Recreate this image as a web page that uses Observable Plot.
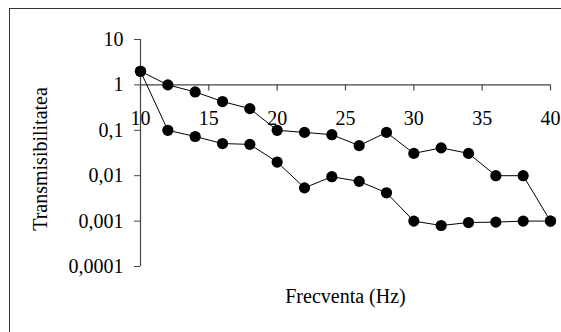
<!DOCTYPE html>
<html><head><meta charset="utf-8">
<script src="https://cdn.jsdelivr.net/npm/d3@7"></script>
<script src="https://cdn.jsdelivr.net/npm/@observablehq/plot@0.6"></script>
<style>
body{margin:0;background:#fff}
#wrap{position:relative;width:561px;height:332px;overflow:hidden;background:#fff}
#border{position:absolute;left:9px;top:8px;width:700px;height:500px;border:1.5px solid #333;box-sizing:border-box}
#wrap svg{position:absolute;left:0;top:0}
</style></head><body><div id="wrap"><div id="border"></div></div>
<script>
const freq = [10,12,14,16,18,20,22,24,26,28,30,32,34,36,38,40];
const seriesA = [2,1,0.7,0.43,0.3,0.1,0.09,0.08,0.046,0.09,0.031,0.041,0.031,0.01,0.01,0.001];
const seriesB = [2,0.1,0.073,0.051,0.049,0.02,0.0054,0.0095,0.0075,0.0042,0.001,0.0008,0.00093,0.00095,0.001,0.001];
const xTicks = [10,15,20,25,30,35,40];
const yTicks = [0.0001,0.001,0.01,0.1,1,10];
const yTickLabels = ["0,0001","0,001","0,01","0,1","1","10"];
const xTitle = "Frecventa (Hz)";
const yTitle = "Transmisibilitatea";

const data = [
  ...freq.map((f,i)=>({x:f,y:seriesA[i],s:"A"})),
  ...freq.map((f,i)=>({x:f,y:seriesB[i],s:"B"}))
];
const axisColor = "#444";
const font = "'Liberation Serif', 'Times New Roman', serif";

const chart = Plot.plot({
  width: 561, height: 332,
  marginLeft: 140, marginRight: 11, marginTop: 39, marginBottom: 66,
  style: {fontFamily: font, fontSize: "20px", background: "transparent", color: "black"},
  x: {domain: [10,40]},
  y: {type: "log", domain: [0.0001,10]},
  marks: [
    Plot.axisY({ticks: yTicks, tickFormat: d => yTickLabels[yTicks.indexOf(d)], tickSize: 6, tickPadding: 11, label: null, stroke: axisColor, fontSize: 20}),
    Plot.axisX({ticks: [], label: null}),
    Plot.ruleX([10], {y1: 0.0001, y2: 10, stroke: axisColor, strokeWidth: 1.2}),
    Plot.ruleY([1], {x1: 10, x2: 40, stroke: axisColor, strokeWidth: 1.2}),
    Plot.ruleX(xTicks, {x: d=>d, y1: 1, y2: 1, insetBottom: -6, stroke: axisColor, strokeWidth: 1.2}),
    Plot.text(xTicks, {x: d=>d, y: 1, dy: 34, text: d=>String(d), fontSize: 20, fill: "black"}),
    Plot.line(data, {x: "x", y: "y", z: "s", stroke: "black", strokeWidth: 1}),
    Plot.dot(data, {x: "x", y: "y", r: 5.6, fill: "black", stroke: "none"}),
    Plot.text([yTitle], {frameAnchor: "left", textAnchor: "middle", rotate: -90, dx: -100, dy: 6, fontSize: 20, fill: "black"}),
    Plot.text([xTitle], {frameAnchor: "bottom", textAnchor: "middle", dy: 36, fontSize: 20, fill: "black"})
  ]
});
document.getElementById("wrap").appendChild(chart);
</script></body></html>
